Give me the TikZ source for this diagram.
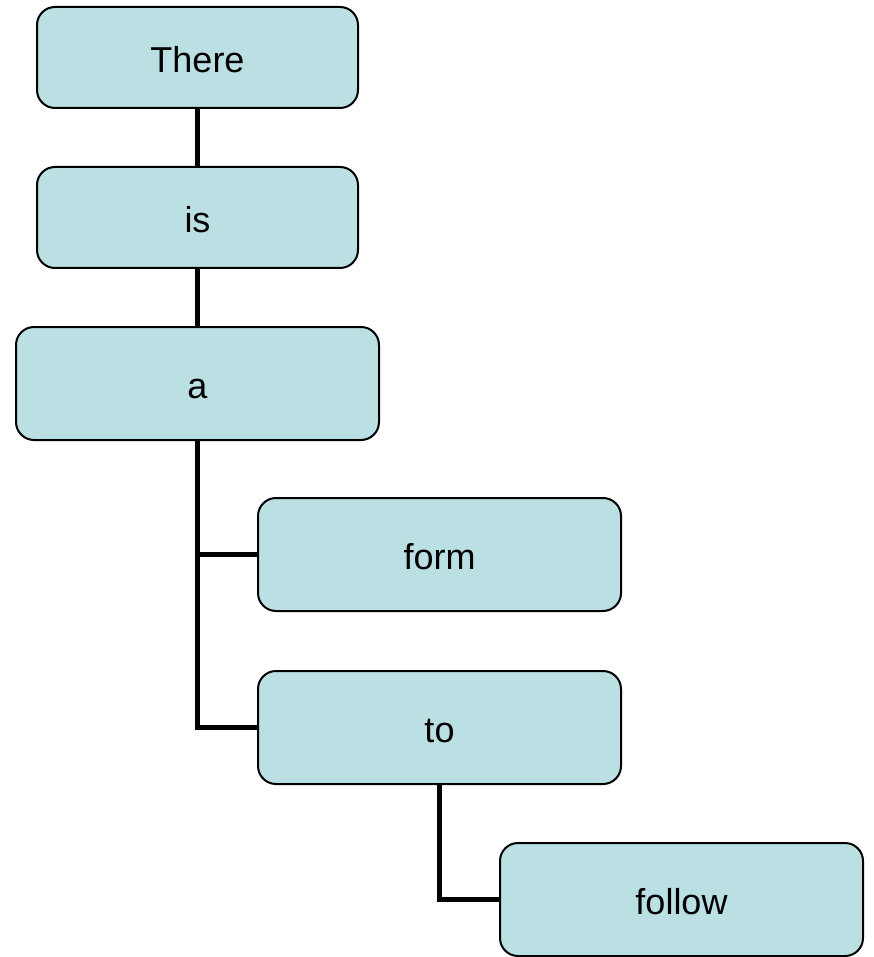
\documentclass[tikz,border=0pt]{standalone}
\usepackage{fontspec}
\setmainfont{Liberation Sans}
\definecolor{boxfill}{HTML}{BBE0E3}
\begin{document}
\begin{tikzpicture}[x=1pt,y=-1pt,
  box/.style={draw=black,line width=2pt,fill=boxfill,rounded corners=18pt,
    inner sep=0pt,text height=30pt,text depth=0pt,font=\fontsize{36}{40}\selectfont},
  small/.style={minimum width=321pt,minimum height=101pt},
  big/.style={minimum width=363pt,minimum height=113pt},
  link/.style={line width=5pt,draw=black}]
\useasboundingbox (0,0) rectangle (874,957);
\node[box,small] (there) at (197.5,57.5) {There};
\node[box,small] (is) at (197.5,217.5) {is};
\node[box,big] (a) at (197.5,383.5) {a};
\node[box,big] (form) at (439.5,554.5) {form};
\node[box,big] (to) at (439.5,727.5) {to};
\node[box,big] (follow) at (681.5,899.5) {follow};
\draw[link] (there.south) -- (is.north);
\draw[link] (is.south) -- (a.north);
\draw[link] (a.south) -- (a.south |- to.west) -- (to.west);
\draw[link] (a.south |- form.west) -- (form.west);
\draw[link] (to.south) -- (to.south |- follow.west) -- (follow.west);
\end{tikzpicture}
\end{document}
